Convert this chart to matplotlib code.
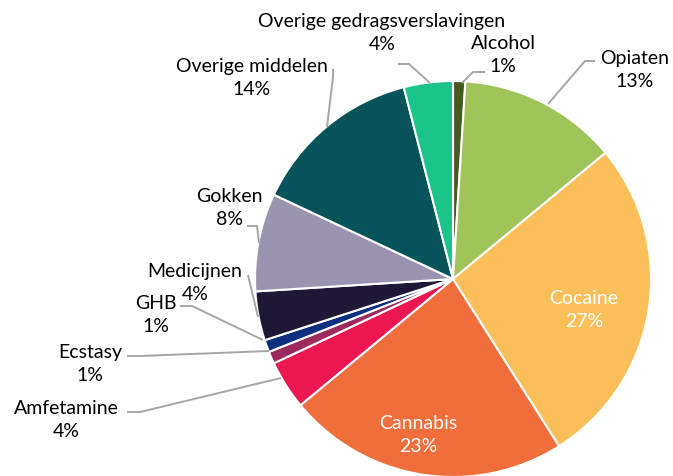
import matplotlib.pyplot as plt

categories = ["Alcohol", "Opiaten", "Cocaine", "Cannabis", "Amfetamine", "Ecstasy",
              "GHB", "Medicijnen", "Gokken", "Overige middelen",
              "Overige gedragsverslavingen"]
shares = [1, 13, 27, 23, 4, 1, 1, 4, 8, 14, 4]
colors = ["#475b20", "#a1c45a", "#fbbf5a", "#ef6e3c", "#ec1650", "#9c2a5c",
          "#0c2f80", "#1e1836", "#9b94b1", "#06545a", "#1bc488"]

W, H = 673, 477

# label placement in pixel coords (x, y from top), label text colour
label_pos = {
    "Alcohol": (503, 55, "black"),
    "Opiaten": (635, 70, "black"),
    "Cocaine": (584, 310, "white"),
    "Cannabis": (418, 435, "white"),
    "Amfetamine": (66, 420, "black"),
    "Ecstasy": (90, 364, "black"),
    "GHB": (156, 315, "black"),
    "Medicijnen": (195, 283, "black"),
    "Gokken": (229, 208, "black"),
    "Overige middelen": (252, 78, "black"),
    "Overige gedragsverslavingen": (382, 33, "black"),
}

# leader lines, pixel coords
leaders = {
    "Alcohol": [(485, 73), (473, 73), (462, 84)],
    "Opiaten": [(595, 62), (585, 62), (548, 105)],
    "Amfetamine": [(127, 413), (140, 413), (281, 379)],
    "Ecstasy": [(127, 357), (140, 357), (269, 352)],
    "GHB": [(180, 307), (192, 307), (263, 341)],
    "Medicijnen": [(248, 276), (258, 318)],
    "Gokken": [(247, 227), (257, 227), (259, 244)],
    "Overige middelen": [(333, 70), (333, 78), (327, 128)],
    "Overige gedragsverslavingen": [(398, 65), (409, 65), (430, 84)],
}

plt.rcParams["font.family"] = ["Lato", "DejaVu Sans"]

fig = plt.figure(figsize=(W / 100, H / 100), dpi=100)
ax = fig.add_axes([0, 0, 1, 1])

ax.pie(shares, colors=colors, startangle=90, counterclock=False,
       center=(453, H - 280), radius=198,
       wedgeprops=dict(edgecolor="white", linewidth=1.5))

ax.set_xlim(0, W)
ax.set_ylim(0, H)
ax.set_aspect("equal")
ax.axis("off")

for name, pts in leaders.items():
    xs = [p[0] for p in pts]
    ys = [H - p[1] for p in pts]
    ax.plot(xs, ys, color="#a6a6a6", lw=1.4, solid_capstyle="butt")

for name, val in zip(categories, shares):
    x, y, c = label_pos[name]
    ax.text(x, H - y, f"{name}\n{val}%", ha="center", va="center",
            fontsize=14, color=c, linespacing=1.45)

fig.savefig("out.png", dpi=100)
